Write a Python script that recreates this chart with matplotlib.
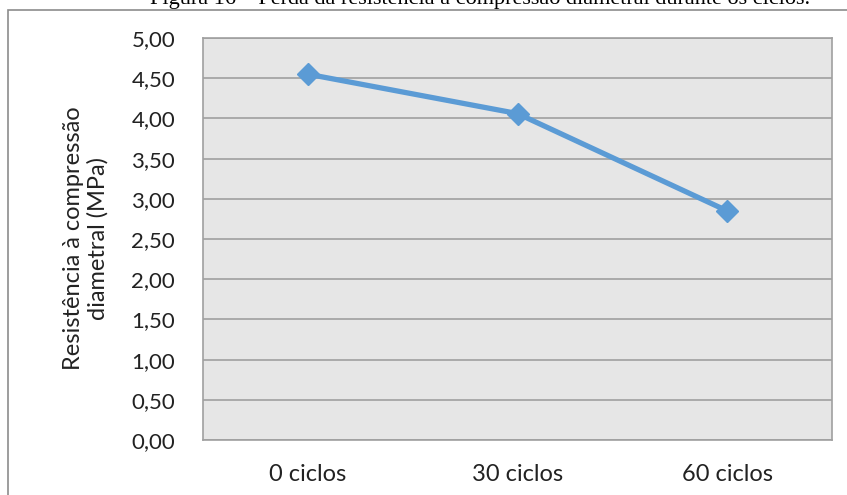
import matplotlib.pyplot as plt
from matplotlib.patches import Rectangle

# === Data ===
categories = ["0 ciclos", "30 ciclos", "60 ciclos"]
resistencia = [4.55, 4.06, 2.85]
y_ticks = [0.0, 0.5, 1.0, 1.5, 2.0, 2.5, 3.0, 3.5, 4.0, 4.5, 5.0]

LINE_COLOR = "#5B9BD5"
W, H = 847, 495

plt.rcParams["font.family"] = ["Lato", "DejaVu Sans"]


def main():
    fig = plt.figure(figsize=(W / 100, H / 100), dpi=100)
    ax = fig.add_axes([203 / W, 1 - 440 / H, (832 - 203) / W, (440 - 38) / H])

    # outer chart frame (cut off at right and bottom)
    fig.patches.append(Rectangle((8 / W, -0.02), 1.0, 1 - 10 / H + 0.02,
                                 transform=fig.transFigure, fill=False,
                                 edgecolor="#8c8c8c", linewidth=1.2))

    # caption, half cut by the top edge
    fig.text(480 / W, 1 - 4 / H,
             "Figura 16 \u2013 Perda da resist\u00eancia \u00e0 compress\u00e3o diametral durante os ciclos.",
             ha="center", va="baseline", fontsize=16, family="Liberation Serif")

    x = list(range(len(categories)))
    ax.plot(x, resistencia, color=LINE_COLOR, linewidth=3.8, marker="D",
            markersize=11, zorder=3, clip_on=False)

    ax.set_facecolor("#e6e6e6")
    ax.set_xlim(-0.5, len(categories) - 0.5)
    ax.set_ylim(0, 5)
    ax.set_yticks(y_ticks)
    ax.set_yticklabels([f"{v:.2f}".replace(".", ",") for v in y_ticks])
    ax.set_xticks(x)
    ax.set_xticklabels(categories)
    ax.tick_params(axis="both", length=0, labelsize=16, colors="#222222")
    ax.tick_params(axis="x", labelsize=17, pad=17)
    ax.tick_params(axis="y", pad=20)
    ax.grid(axis="y", color="#a0a0a0", linewidth=1.2)
    ax.set_axisbelow(True)
    for side in ["left", "bottom", "top", "right"]:
        ax.spines[side].set_color("#a0a0a0")
        ax.spines[side].set_linewidth(1.2)

    # y axis title
    fig.text(86 / W, 1 - 238 / H,
             "Resist\u00eancia \u00e0 compress\u00e3o\ndiametral (MPa)",
             rotation=90, ha="center", va="center", multialignment="center",
             fontsize=17, color="#222222", linespacing=1.2)

    fig.savefig("out.png", dpi=100)


if __name__ == "__main__":
    main()
